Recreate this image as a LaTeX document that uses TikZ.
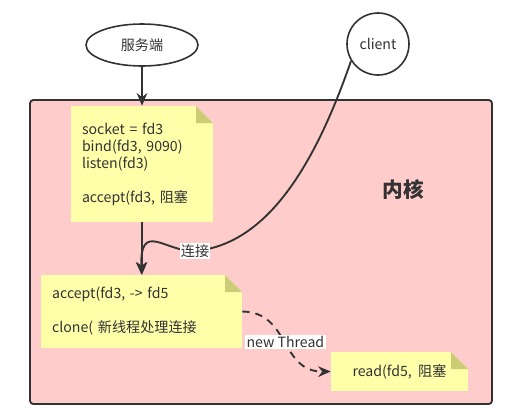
\documentclass[tikz,border=0pt]{standalone}
\usepackage{fontspec}
\setmainfont{Noto Sans CJK SC}
\usetikzlibrary{arrows.meta,shapes.geometric}
\definecolor{inkgray}{HTML}{333333}
\definecolor{kernelpink}{HTML}{FFCCCC}
\definecolor{noteyellow}{HTML}{FFFFAA}
\definecolor{notefold}{HTML}{CCCC77}
\tikzset{
  note/.style={fill=noteyellow, inner sep=0pt, text=inkgray,
    font=\fontsize{10.6}{12.75}\selectfont,
    path picture={
      \fill[kernelpink] (path picture bounding box.north east) -- ++(-12.75pt,0pt) -- ++(12.75pt,-12.75pt) -- cycle;
      \fill[notefold] (path picture bounding box.north east) ++(-12.75pt,0pt) -- ++(0pt,-12.75pt) -- ++(12.75pt,0pt) -- cycle;}},
  link/.style={draw=inkgray, line width=1.4pt, -{Stealth[length=9.5pt,width=8pt]}},
  tag/.style={fill=white, inner sep=1pt, text=inkgray, font=\fontsize{10.6}{12}\selectfont},
  actor/.style={draw=inkgray, line width=1.2pt, fill=white, text=inkgray,
    font=\fontsize{10.6}{12}\selectfont}
}
\begin{document}
\begin{tikzpicture}[x=0.75pt, y=-0.75pt]
\useasboundingbox (0,0) rectangle (528,412);

% kernel area
\node (kernel) [draw=inkgray, fill=kernelpink, line width=1.4pt, rounded corners=2.5pt,
  minimum width=346.5pt, minimum height=228pt] at (261,252) {};
\node (kname) [text=inkgray, font=\fontsize{15.5}{17}\selectfont\bfseries] at (403,190) {内核};

% outside actors
\node (server) [actor, ellipse, minimum width=84pt, minimum height=31.5pt, inner sep=0pt] at (142,45) {服务端};
\node (client) [actor, circle, minimum size=46.5pt, inner sep=0pt] at (378,44) {client};

% notes
\node (n1) [note, align=left, text width=90pt, minimum width=106.5pt, minimum height=87pt] at (142,164)
  {socket = fd3\\bind(fd3, 9090)\\listen(fd3)\\[12.75pt]accept(fd3, 阻塞};
\node (n2) [note, align=left, text width=134pt, minimum width=150.75pt, minimum height=54.75pt] at (141.5,311.5)
  {accept(fd3, -> fd5\\[12.75pt]clone( 新线程处理连接};
\node (n3) [note, align=center, minimum width=102.75pt, minimum height=29.25pt] at (399.5,371.5)
  {read(fd5,\ \ 阻塞};

% connectors
\draw[link] (server) -- (n1);
\draw[link] (n1.south) -- (n1.south |- n2.north);
\draw[link] (client.212) .. controls (310,180) and (260,245) .. (195,251)
  node[tag] {连接}
  .. controls (165,252) and (140,220) .. (n2.north);
\draw[link, dash pattern=on 5.5pt off 4.5pt] (n2.east) .. controls (290,312) and (280,372) .. (n3.west)
  node[tag, pos=0.5] {new Thread};
\end{tikzpicture}
\end{document}
